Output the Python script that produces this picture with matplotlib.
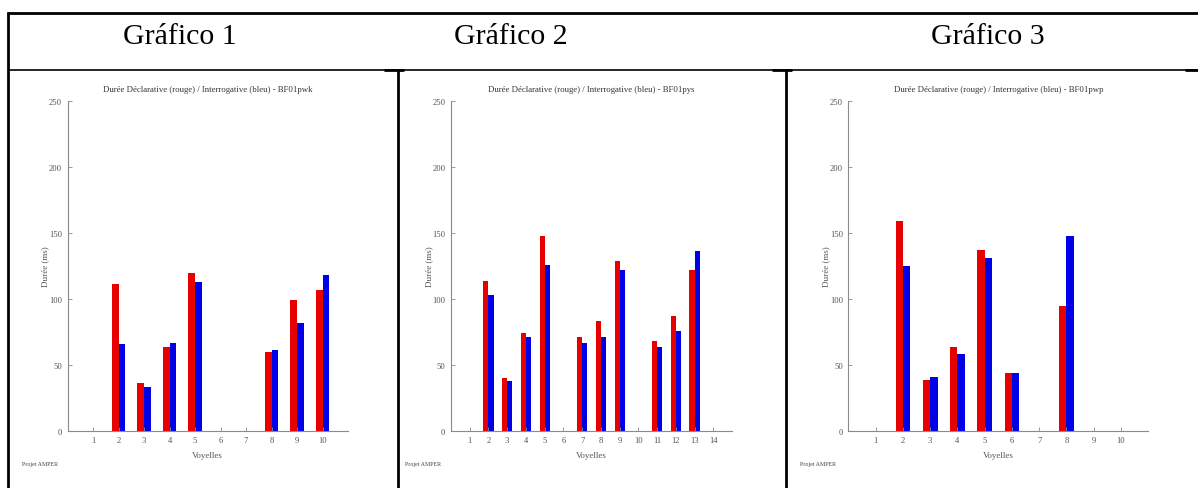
import matplotlib
matplotlib.use("Agg")
import matplotlib.pyplot as plt
from matplotlib.lines import Line2D

# ---------------- data ----------------
header_labels = ["Gráfico 1", "Gráfico 2", "Gráfico 3"]
titles = ["Durée Déclarative (rouge) / Interrogative (bleu) - BF01pwk",
          "Durée Déclarative (rouge) / Interrogative (bleu) - BF01pys",
          "Durée Déclarative (rouge) / Interrogative (bleu) - BF01pwp"]

voyelles_1 = [1, 2, 3, 4, 5, 6, 7, 8, 9, 10]
declarative_1 = [0, 111, 36, 64, 120, 0, 0, 60, 99, 107]
interrogative_1 = [0, 66, 33, 67, 113, 0, 0, 61, 82, 118]

voyelles_2 = [1, 2, 3, 4, 5, 6, 7, 8, 9, 10, 11, 12, 13, 14]
declarative_2 = [0, 114, 40, 74, 148, 0, 71, 83, 129, 0, 68, 87, 122, 0]
interrogative_2 = [0, 103, 38, 71, 126, 0, 67, 71, 122, 0, 64, 76, 136, 0]

voyelles_3 = [1, 2, 3, 4, 5, 6, 7, 8, 9, 10]
declarative_3 = [0, 159, 39, 64, 137, 44, 0, 95, 0, 0]
interrogative_3 = [0, 125, 41, 58, 131, 44, 0, 148, 0, 0]

y_ticks = [0, 50, 100, 150, 200, 250]
y_label = "Durée (ms)"
x_label = "Voyelles"
footer = "Projet AMPER"

# ---------------- layout ----------------
W, H = 1198, 489
fig = plt.figure(figsize=(W / 100, H / 100), dpi=100)
fig.patch.set_facecolor("white")

def fx(px):
    return px / W

def fy(py):
    return 1 - py / H

SERIF = ["Liberation Serif", "DejaVu Serif"]
RED = "#e60000"
BLUE = "#0000e6"
GREY = "#8a8a8a"
TXT = "#555555"

# table lines
def hline(y, x0, x1, lw):
    fig.add_artist(Line2D([fx(x0), fx(x1)], [fy(y), fy(y)], color="black",
                          lw=lw, transform=fig.transFigure, solid_capstyle="butt"))

def vline(x, y0, y1, lw):
    fig.add_artist(Line2D([fx(x), fx(x)], [fy(y0), fy(y1)], color="black",
                          lw=lw, transform=fig.transFigure, solid_capstyle="butt"))

hline(14, 7, W, 2.0)
vline(8, 13, H, 2.0)
hline(70.5, 8, W, 1.2)
vline(398, 70, H, 2.0)
vline(786, 70, H, 2.0)
hline(70.5, 384, 404, 2.0)
hline(70.5, 772, 792, 2.0)
hline(70.5, 1185, W, 2.0)

header_x = [180, 511, 988]
for lab, hx in zip(header_labels, header_x):
    fig.text(fx(hx), fy(44), lab, ha="center", va="baseline",
             fontsize=21.5, family=SERIF, color="black")

# axes in pixel coordinates: (left, right)
axes_px = [(67.5, 348), (451, 732), (848.5, 1148)]
ax_top, ax_bot = 102, 432
datasets = [(voyelles_1, declarative_1, interrogative_1),
            (voyelles_2, declarative_2, interrogative_2),
            (voyelles_3, declarative_3, interrogative_3)]
footer_x = [22, 405, 800]

bw = 0.27
for i, ((l, r), (xs, dec, inter)) in enumerate(zip(axes_px, datasets)):
    ax = fig.add_axes([fx(l), fy(ax_bot), (r - l) / W, (ax_bot - ax_top) / H])
    ax.bar([x - bw for x in xs], dec, width=bw, align="edge", color=RED, lw=0)
    ax.bar(xs, inter, width=bw, align="edge", color=BLUE, lw=0)
    ax.set_xlim(0, len(xs) + 1)
    ax.set_ylim(0, 250)
    ax.set_xticks(xs)
    ax.set_xticklabels([str(x) for x in xs])
    ax.set_yticks(y_ticks)
    ax.set_yticklabels([str(v) for v in y_ticks])
    for s in ["top", "right"]:
        ax.spines[s].set_visible(False)
    for s in ["left", "bottom"]:
        ax.spines[s].set_color(GREY)
        ax.spines[s].set_linewidth(0.8)
    ax.tick_params(direction="in", length=3, width=0.6, color=GREY,
                   labelsize=6.2, labelcolor=TXT)
    ax.tick_params(axis="y", pad=4)
    ax.tick_params(axis="x", pad=3.5)
    for t in ax.get_xticklabels() + ax.get_yticklabels():
        t.set_family(SERIF)
    ax.set_title(titles[i], fontsize=6.3, family=SERIF, color="#333333", pad=7)
    ax.set_ylabel(y_label, fontsize=6.5, family=SERIF, color=TXT)
    ax.yaxis.set_label_coords(-22 / (r - l), 0.5)
    ax.yaxis.label.set_va("center")
    ax.set_xlabel(x_label, fontsize=6.5, family=SERIF, color=TXT)
    ax.xaxis.set_label_coords(0.5, -24 / (ax_bot - ax_top))
    ax.xaxis.label.set_va("center")
    ax.set_facecolor("white")
    fig.text(fx(footer_x[i]), fy(465), footer, ha="left", va="center",
             fontsize=4.3, family=SERIF, color="#444444")

fig.savefig("out.png", dpi=100, facecolor="white")
